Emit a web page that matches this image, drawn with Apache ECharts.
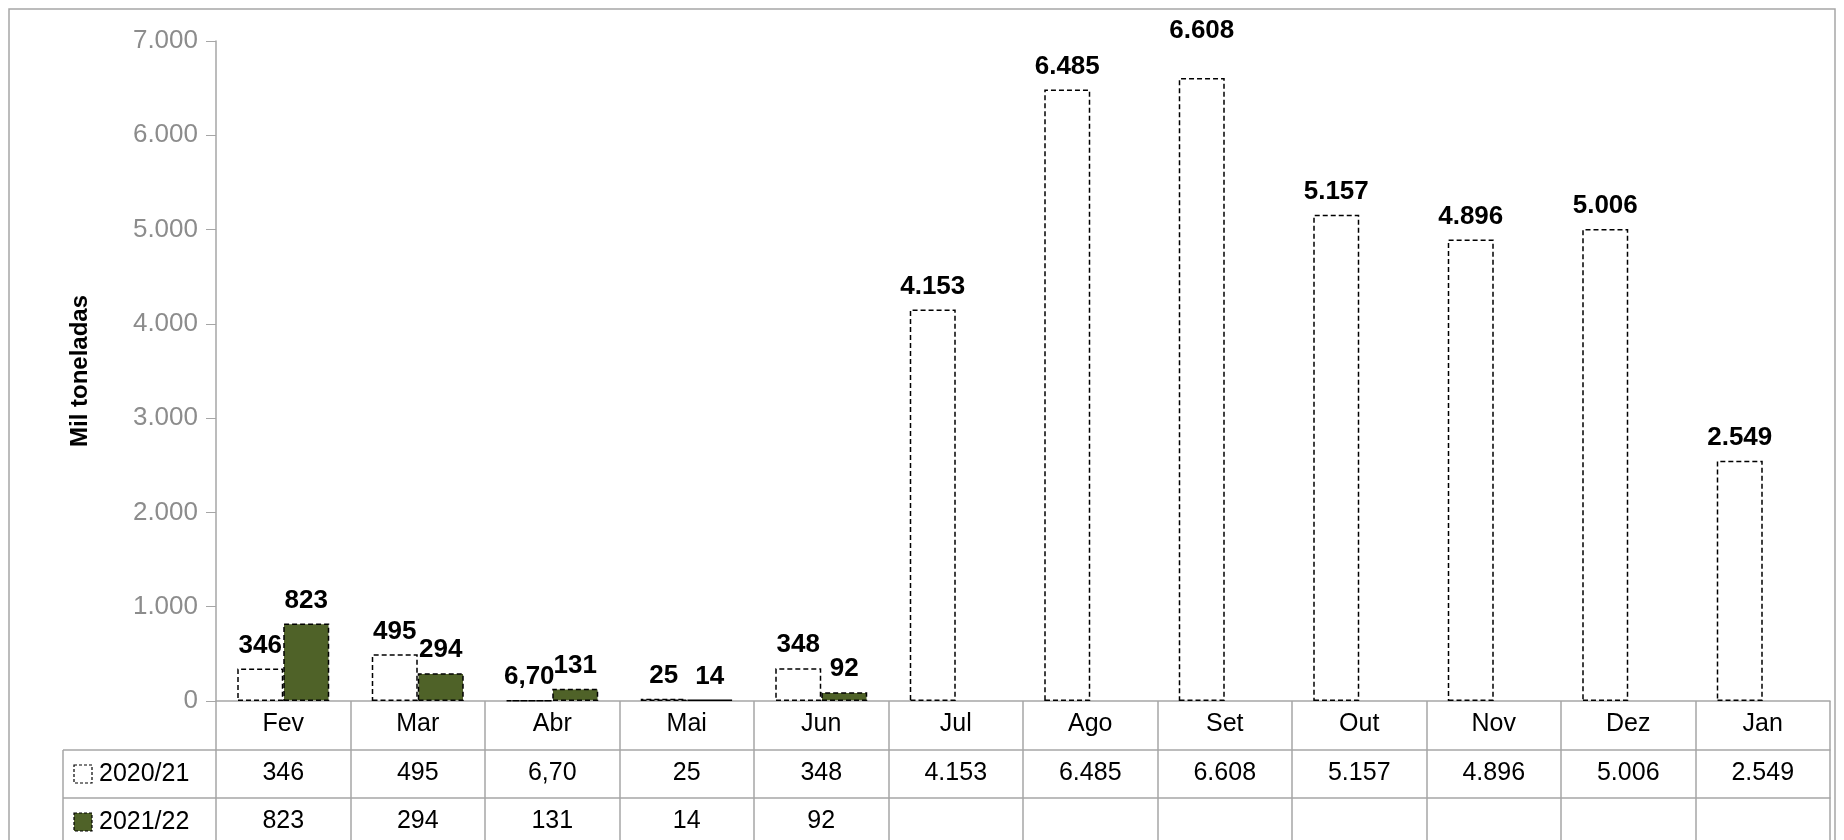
<!DOCTYPE html>
<html lang="pt">
<head>
    <meta charset="UTF-8">
    <title>Mil toneladas</title>
    <script src="https://cdn.jsdelivr.net/npm/echarts@6/dist/echarts.min.js"></script>
    <style>html,body{margin:0;padding:0;background:#fff;}</style>
</head>
<body>
<div id="main" style="width:1844px;height:840px;"></div>
<script>
    // dados
    var meses = ['Fev', 'Mar', 'Abr', 'Mai', 'Jun', 'Jul', 'Ago', 'Set', 'Out', 'Nov', 'Dez', 'Jan'];
    var safra2021 = [346, 495, 6.70, 25, 348, 4153, 6485, 6608, 5157, 4896, 5006, 2549];
    var safra2122 = [823, 294, 131, 14, 92];
    var rotulos2021 = ['346', '495', '6,70', '25', '348', '4.153', '6.485', '6.608', '5.157', '4.896', '5.006', '2.549'];
    var rotulos2122 = ['823', '294', '131', '14', '92', '', '', '', '', '', '', ''];
    var eixoY = ['0', '1.000', '2.000', '3.000', '4.000', '5.000', '6.000', '7.000'];

    var fonte = '"Liberation Sans", Arial, sans-serif';
    var cinza = '#a6a6a6';
    var verde = '#4f6228';

    var myChart = echarts.init(document.getElementById('main'));

    function eixoTabela(offset, labels, len) {
        return {
            type: 'category', position: 'bottom', offset: offset, gridIndex: 0,
            data: meses,
            axisLine: { show: true, lineStyle: { color: cinza, width: 1.5 } },
            axisTick: { show: true, interval: 0, length: len, lineStyle: { color: cinza, width: 1.5 } },
            axisLabel: {
                interval: 0, margin: 11, color: '#000', fontSize: 25, fontFamily: fonte,
                formatter: function (v, i) { return labels ? labels[i] : v; }
            }
        };
    }

    // rótulo de Set deslocado para cima (como no original)
    var dados2021 = safra2021.map(function (v, i) {
        return i === 7 ? { value: v, label: { distance: 34 } } : v;
    });

    var rotulo = {
        show: true, position: 'top', distance: 10, fontSize: 26, fontWeight: 'bold',
        color: '#000', fontFamily: fonte
    };

    var option = {
        animation: false,
        grid: { left: 216, right: 14, top: 41, bottom: 139 },
        xAxis: [
            eixoTabela(0, null, 49),
            eixoTabela(49, rotulos2021, 48),
            eixoTabela(97, rotulos2122, 48)
        ],
        yAxis: {
            type: 'value', min: 0, max: 7000, interval: 1000,
            name: 'Mil toneladas', nameLocation: 'middle', nameGap: 124,
            nameTextStyle: { fontSize: 24, fontWeight: 'bold', color: '#000', fontFamily: fonte },
            axisLine: { show: true, lineStyle: { color: cinza, width: 1.5 } },
            axisTick: { show: true, length: 10, lineStyle: { color: cinza } },
            splitLine: { show: false },
            axisLabel: {
                fontSize: 26, color: '#8c8c8c', margin: 18, fontFamily: fonte,
                formatter: function (v) { return eixoY[v / 1000]; }
            }
        },
        series: [
            {
                name: '2020/21', type: 'bar', data: dados2021, barWidth: 46, barGap: '0%',
                itemStyle: { color: '#fff', borderColor: '#000', borderWidth: 1.5, borderType: [5, 3] },
                label: Object.assign({}, rotulo, {
                    formatter: function (p) { return rotulos2021[p.dataIndex]; }
                })
            },
            {
                name: '2021/22', type: 'bar', data: safra2122, barWidth: 46,
                itemStyle: { color: verde, borderColor: '#000', borderWidth: 1.5, borderType: [5, 3] },
                label: Object.assign({}, rotulo, {
                    formatter: function (p) { return rotulos2122[p.dataIndex]; }
                })
            }
        ],
        graphic: [
            { type: 'rect', shape: { x: 9, y: 9, width: 1826, height: 840 }, style: { fill: 'none', stroke: cinza, lineWidth: 1.5 }, silent: true },
            { type: 'line', shape: { x1: 63, y1: 750, x2: 216, y2: 750 }, style: { stroke: cinza, lineWidth: 1.5 } },
            { type: 'line', shape: { x1: 63, y1: 798, x2: 216, y2: 798 }, style: { stroke: cinza, lineWidth: 1.5 } },
            { type: 'line', shape: { x1: 63, y1: 750, x2: 63, y2: 840 }, style: { stroke: cinza, lineWidth: 1.5 } },
            { type: 'rect', shape: { x: 74, y: 765, width: 18, height: 18 }, style: { fill: '#fff', stroke: '#000', lineWidth: 1.2, lineDash: [3, 2] } },
            { type: 'text', x: 99, y: 774, style: { text: '2020/21', fill: '#000', font: '25px ' + fonte, verticalAlign: 'middle' } },
            { type: 'rect', shape: { x: 74, y: 813, width: 18, height: 18 }, style: { fill: verde, stroke: '#000', lineWidth: 1.2, lineDash: [3, 2] } },
            { type: 'text', x: 99, y: 822, style: { text: '2021/22', fill: '#000', font: '25px ' + fonte, verticalAlign: 'middle' } }
        ]
    };

    myChart.setOption(option);
</script>
</body>
</html>
